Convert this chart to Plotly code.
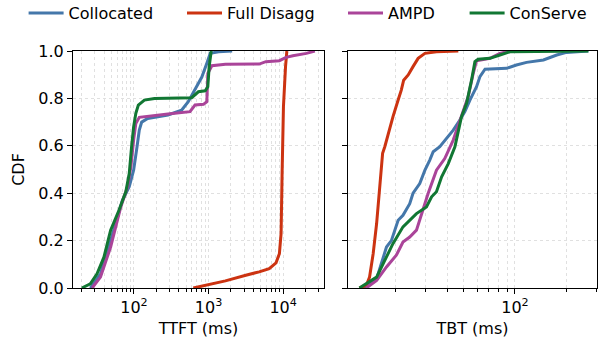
import plotly.graph_objects as go

# ---------------- data ----------------
series_names = ["Collocated", "Full Disagg", "AMPD", "ConServe"]
series_colors = ["#4477AA", "#CC3311", "#AA4499", "#117733"]

# TTFT (ms) CDF points
ttft_collocated_x = [26, 35.6, 48.7, 70, 86.5, 99, 110, 118, 127, 153, 286, 435, 535, 659, 813, 949, 1054, 1367, 2074]
ttft_collocated_y = [0.0, 0.06, 0.20, 0.37, 0.427, 0.497, 0.596, 0.666, 0.70, 0.715, 0.73, 0.75, 0.786, 0.835, 0.89, 0.948, 0.99, 0.997, 1.0]

ttft_fulldisagg_x = [625, 1000, 1683, 3160, 4770, 6510, 8030, 8910, 9390, 9690, 10100, 10770, 11220]
ttft_fulldisagg_y = [0.0, 0.015, 0.03, 0.054, 0.068, 0.082, 0.106, 0.145, 0.23, 0.483, 0.765, 0.934, 1.0]

ttft_ampd_x = [27.5, 35.6, 48.7, 66.6, 82, 91, 99, 106, 118, 153, 286, 564, 659, 855, 949, 979, 1110, 1683, 4770, 5870, 8900, 10970, 13500, 20500, 26600]
ttft_ampd_y = [0.0, 0.046, 0.173, 0.342, 0.427, 0.511, 0.624, 0.694, 0.72, 0.725, 0.734, 0.744, 0.772, 0.775, 0.786, 0.906, 0.938, 0.944, 0.945, 0.955, 0.959, 0.973, 0.98, 0.99, 1.0]

ttft_conserve_x = [20, 26, 32, 39.6, 48.7, 63, 77.8, 86.5, 93, 99, 106, 114.5, 138, 189, 594, 659, 731, 901, 978, 1020, 1087]
ttft_conserve_y = [0.0, 0.018, 0.06, 0.13, 0.244, 0.328, 0.406, 0.483, 0.596, 0.68, 0.737, 0.772, 0.793, 0.80, 0.803, 0.814, 0.828, 0.832, 0.849, 0.934, 1.0]

# TBT (ms) CDF points
tbt_collocated_x = [12.8, 15.4, 17.6, 18.8, 20.6, 22.0, 24.1, 25.2, 27.6, 29.6, 31.6, 33.1, 36.2, 39.6, 43.4, 47.4, 50.8, 54.4, 59.5, 62.3, 65.2, 66.7, 89.3, 102, 117, 147, 176, 201, 270]
tbt_collocated_y = [0.0, 0.039, 0.173, 0.20, 0.286, 0.307, 0.356, 0.40, 0.441, 0.497, 0.54, 0.575, 0.596, 0.631, 0.666, 0.708, 0.744, 0.793, 0.849, 0.892, 0.913, 0.923, 0.927, 0.941, 0.952, 0.962, 0.983, 0.994, 1.0]

tbt_fulldisagg_x = [12.2, 13.4, 14.0, 14.7, 15.4, 16.1, 16.7, 17.2, 18.0, 19.2, 20.6, 21.5, 22.2, 23.6, 25.2, 27.0, 29.6, 34.6, 46.5]
tbt_fulldisagg_y = [0.0, 0.011, 0.046, 0.145, 0.272, 0.441, 0.568, 0.596, 0.652, 0.722, 0.793, 0.835, 0.877, 0.899, 0.934, 0.969, 0.99, 0.997, 1.0]

tbt_ampd_x = [13.4, 15.4, 17.6, 20.1, 22.0, 24.1, 26.4, 28.3, 30.9, 34.6, 38.7, 43.4, 48.5, 53.1, 56.9, 59.5, 71.3, 81.6, 93.5]
tbt_ampd_y = [0.0, 0.032, 0.089, 0.138, 0.194, 0.215, 0.244, 0.314, 0.399, 0.497, 0.546, 0.624, 0.722, 0.807, 0.906, 0.959, 0.969, 0.99, 1.0]

tbt_conserve_x = [12.2, 15.4, 17.6, 19.2, 22.0, 26.4, 30.2, 32.4, 34.6, 37.1, 40.6, 44.4, 48.5, 52.0, 55.6, 58.2, 60.8, 71.3, 81.6, 93.5, 270]
tbt_conserve_y = [0.0, 0.046, 0.131, 0.187, 0.258, 0.314, 0.342, 0.385, 0.406, 0.469, 0.525, 0.596, 0.722, 0.779, 0.877, 0.955, 0.965, 0.969, 0.983, 0.997, 1.0]

ttft_ticks = [100, 1000, 10000]
ttft_ticktext = ["10<sup>2</sup>", "10<sup>3</sup>", "10<sup>4</sup>"]
tbt_ticks = [100]
tbt_ticktext = ["10<sup>2</sup>"]
cdf_ticks = [0.0, 0.2, 0.4, 0.6, 0.8, 1.0]
ttft_minor = [m * 10 ** e for e in (1, 2, 3, 4) for m in range(2, 10)]
tbt_minor = [m * 10 ** e for e in (1, 2) for m in range(2, 10)]

# ---------------- figure ----------------
W, H = 602, 343
# plot area in page coordinates (body margin removed by post_script)
PL, PR, PT, PB = 73, 597, 51, 288
ML, MT = PL, PT
MR, MB = W - PR, H - PB
PW = PR - PL
PH = PB - PT
FONT = "DejaVu Sans"
FS = 16
fig = go.Figure()

ttft = [(ttft_collocated_x, ttft_collocated_y), (ttft_fulldisagg_x, ttft_fulldisagg_y),
        (ttft_ampd_x, ttft_ampd_y), (ttft_conserve_x, ttft_conserve_y)]
tbt = [(tbt_collocated_x, tbt_collocated_y), (tbt_fulldisagg_x, tbt_fulldisagg_y),
       (tbt_ampd_x, tbt_ampd_y), (tbt_conserve_x, tbt_conserve_y)]
legend_ids = ["legend", "legend2", "legend3", "legend4"]
legend_text_start = [70.6, 229, 390, 511.6]  # page x of each legend label

for i, name in enumerate(series_names):
    fig.add_trace(go.Scatter(x=ttft[i][0], y=ttft[i][1], mode="lines", name=name,
                             line=dict(color=series_colors[i], width=3),
                             xaxis="x", yaxis="y", legend=legend_ids[i]))
for i, name in enumerate(series_names):
    fig.add_trace(go.Scatter(x=tbt[i][0], y=tbt[i][1], mode="lines", name=name,
                             line=dict(color=series_colors[i], width=3),
                             xaxis="x2", yaxis="y2", showlegend=False))

GRIDC = "#e0e0e0"
def xaxis_cfg(minor_vals):
    return dict(type="log", showline=True, linecolor="black", linewidth=1, mirror=True,
                ticks="outside", ticklen=5, tickwidth=1, tickcolor="black",
                zeroline=False, automargin=False,
                showgrid=True, gridcolor=GRIDC, griddash="dot", gridwidth=1,
                minor=dict(tickmode="array", tickvals=minor_vals, ticks="outside", ticklen=3,
                           tickwidth=1, tickcolor="black",
                           showgrid=True, gridcolor=GRIDC, griddash="dot", gridwidth=1),
                tickfont=dict(family=FONT, size=FS, color="black"))

common_y = dict(range=[0, 1], tickvals=cdf_ticks, showline=True, linecolor="black", linewidth=1,
                mirror=True, ticks="outside", ticklen=5, tickwidth=1, tickcolor="black",
                zeroline=False, automargin=False,
                showgrid=True, gridcolor=GRIDC, griddash="dot", gridwidth=1,
                tickfont=dict(family=FONT, size=FS, color="black"))

layout_legends = {}
for i, lid in enumerate(legend_ids):
    left_fig = legend_text_start[i] - 47
    layout_legends[lid] = dict(
        orientation="h", x=(left_fig - ML) / PW, xanchor="left",
        y=1 + (MT - 13) / PH, yanchor="middle",
        font=dict(family=FONT, size=FS, color="black"),
        bgcolor="rgba(0,0,0,0)", itemwidth=35)

fig.update_layout(
    width=W, height=H,
    margin=dict(l=ML, r=MR, t=MT, b=MB, autoexpand=False),
    paper_bgcolor="white", plot_bgcolor="white",
    font=dict(family=FONT, size=FS, color="black"),
    xaxis=dict(domain=[0, (324 - PL) / PW], range=[1.183, 4.548], anchor="y",
               tickvals=ttft_ticks, ticktext=ttft_ticktext,
               title=dict(text="TTFT (ms)", standoff=6, font=dict(family=FONT, size=FS)),
               **xaxis_cfg(ttft_minor)),
    xaxis2=dict(domain=[(348 - PL) / PW, 1], range=[1.0194, 2.482], anchor="y2",
                tickvals=tbt_ticks, ticktext=tbt_ticktext,
                title=dict(text="TBT (ms)", standoff=6, font=dict(family=FONT, size=FS)),
                **xaxis_cfg(tbt_minor)),
    yaxis=dict(domain=[0, 1], anchor="x", tickformat=".1f",
               title=dict(text="CDF", standoff=9, font=dict(family=FONT, size=FS)),
               **common_y),
    yaxis2=dict(domain=[0, 1], anchor="x2", showticklabels=False, matches="y", **common_y),
    showlegend=True,
    hovermode=False,
    **layout_legends,
)

fig.write_html("out.html", config={"displayModeBar": False, "staticPlot": True},
               post_script="document.body.style.margin='0';")
